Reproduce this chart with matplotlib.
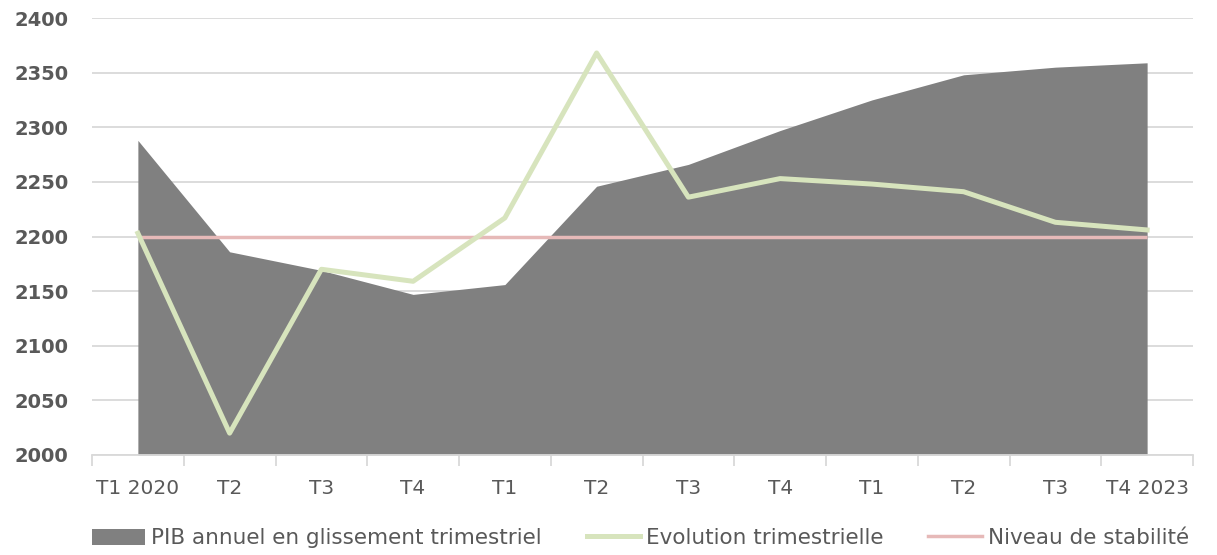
import matplotlib
matplotlib.use("Agg")
import matplotlib.pyplot as plt
from matplotlib.patches import Patch
from matplotlib.lines import Line2D
import numpy as np

quarters = ["T1 2020", "T2", "T3", "T4", "T1", "T2", "T3", "T4", "T1", "T2", "T3", "T4 2023"]
pib_annuel = [2288, 2186, 2169, 2147, 2156, 2246, 2266, 2297, 2325, 2348, 2355, 2359]
evolution_trim = [2203, 2020, 2170, 2159, 2217, 2368, 2236, 2253, 2248, 2241, 2213, 2206]
stabilite = [2200] * 12

c_area = "#808080"
c_green = "#d7e4bd"
c_pink = "#e6b9b8"
c_grid = "#d9d9d9"
c_text = "#595959"

fig = plt.figure(figsize=(12.17, 5.55), dpi=100)
ax = fig.add_axes([92 / 1217, 100 / 555, (1193 - 92) / 1217, (455 - 18) / 555])

x = np.arange(len(quarters))
ax.fill_between(x, 2000, pib_annuel, color=c_area, linewidth=0, zorder=2)
ax.plot(x, stabilite, color=c_pink, lw=2.5, zorder=3, solid_capstyle="butt")
ax.plot(x, evolution_trim, color=c_green, lw=3.6, zorder=4, solid_joinstyle="round")

ax.set_xlim(-0.5, len(quarters) - 0.5)
ax.set_ylim(2000, 2400)
ax.set_yticks(np.arange(2000, 2401, 50))
ax.grid(axis="y", color=c_grid, lw=1.3, zorder=0)
ax.set_axisbelow(True)

ax.set_xticks(x)
ax.set_xticklabels(quarters)
ax.set_xticks(np.arange(-0.5, len(quarters), 1), minor=True)
ax.tick_params(axis="x", which="major", length=0, pad=17, labelsize=14.5, labelcolor=c_text)
ax.tick_params(axis="x", which="minor", length=8, color=c_grid, width=1.3)
ax.tick_params(axis="y", length=0, pad=17, labelsize=14, labelcolor=c_text)
for lab in ax.get_yticklabels():
    lab.set_fontweight("bold")

for side in ("left", "right", "top"):
    ax.spines[side].set_visible(False)
ax.spines["bottom"].set_color(c_grid)
ax.spines["bottom"].set_linewidth(1.3)

handles = [
    Patch(facecolor=c_area, edgecolor="none"),
    Line2D([0], [0], color=c_green, lw=3.6),
    Line2D([0], [0], color=c_pink, lw=2.5),
]
labels = ["PIB annuel en glissement trimestriel", "Evolution trimestrielle", "Niveau de stabilité"]
fig.legend(handles, labels, loc="center", bbox_to_anchor=(0.526, 0.03), ncol=3, frameon=False,
           fontsize=15.5, labelcolor=c_text, handlelength=2.5, handletextpad=0.25,
           columnspacing=2.1, handleheight=0.8)

fig.savefig("out.png", dpi=100)
